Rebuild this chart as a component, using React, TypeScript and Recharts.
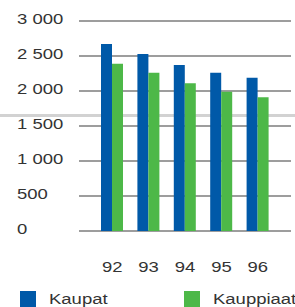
import { BarChart, Bar, CartesianGrid, XAxis, YAxis } from "recharts"

const years = ["92", "93", "94", "95", "96"]
const kaupat = [2670, 2530, 2370, 2260, 2190]
const kauppiaat = [2390, 2260, 2110, 1990, 1910]
const yTicks = [0, 500, 1000, 1500, 2000, 2500, 3000]
const yTickLabels = ["0", "500", "1 000", "1 500", "2 000", "2 500", "3 000"]

const data = years.map((year, i) => ({ year, kaupat: kaupat[i], kauppiaat: kauppiaat[i] }))

const BLUE = "#0059a8"
const GREEN = "#4db848"
const TEXT = "#333333"
const FONT = "'Liberation Sans', Arial, sans-serif"
const STRETCH = 1.32

const YTick = ({ y, payload }: any) => {
  const idx = yTicks.indexOf(payload.value)
  return (
    <text
      transform={`translate(17 ${y + 3}) scale(${STRETCH} 1)`}
      fontSize={14}
      fontFamily={FONT}
      fill={TEXT}
      textAnchor="start"
    >
      {yTickLabels[idx]}
    </text>
  )
}

const XTick = ({ x, y, payload }: any) => (
  <text
    transform={`translate(${x} ${y + 33}) scale(${STRETCH} 1)`}
    fontSize={14}
    fontFamily={FONT}
    fill={TEXT}
    textAnchor="middle"
  >
    {payload.value}
  </text>
)

const legendItems = [
  { label: "Kaupat", color: BLUE, left: 20 },
  { label: "Kauppiaat", color: GREEN, left: 184 },
]

const App = () => {
  return (
    <div style={{ position: "absolute", left: 0, top: 0, width: 295, height: 307, overflow: "hidden", background: "#fff" }}>
      {/* light grey strip running across the whole picture */}
      <div style={{ position: "absolute", left: 0, top: 114, width: 295, height: 3, background: "#d2d2d2" }} />
      <div style={{ position: "absolute", left: 0, top: 0 }}>
        <BarChart
          width={295}
          height={307}
          data={data}
          margin={{ top: 21, right: 4, bottom: 36, left: 0 }}
          barGap={0}
        >
          <CartesianGrid vertical={false} stroke="#3c3c3c" strokeWidth={1.2} />
          <XAxis
            dataKey="year"
            type="category"
            height={40}
            padding={{ left: 15, right: 15 }}
            axisLine={false}
            tickLine={false}
            tick={<XTick />}
          />
          <YAxis
            type="number"
            domain={[0, 3000]}
            ticks={yTicks}
            width={79}
            axisLine={false}
            tickLine={false}
            tick={<YTick />}
          />
          <Bar dataKey="kaupat" fill={BLUE} barSize={11} isAnimationActive={false} />
          <Bar dataKey="kauppiaat" fill={GREEN} barSize={11} isAnimationActive={false} />
        </BarChart>
      </div>
      {legendItems.map((item) => (
        <div key={item.label} style={{ position: "absolute", left: item.left, top: 291, height: 16, display: "flex", alignItems: "center" }}>
          <div style={{ width: 16, height: 16, background: item.color }} />
          <span
            style={{
              marginLeft: 13,
              fontFamily: FONT,
              fontSize: 14,
              color: TEXT,
              display: "inline-block",
              transform: `scaleX(${STRETCH})`,
              transformOrigin: "left center",
              lineHeight: "16px",
            }}
          >
            {item.label}
          </span>
        </div>
      ))}
    </div>
  )
}

export default App
